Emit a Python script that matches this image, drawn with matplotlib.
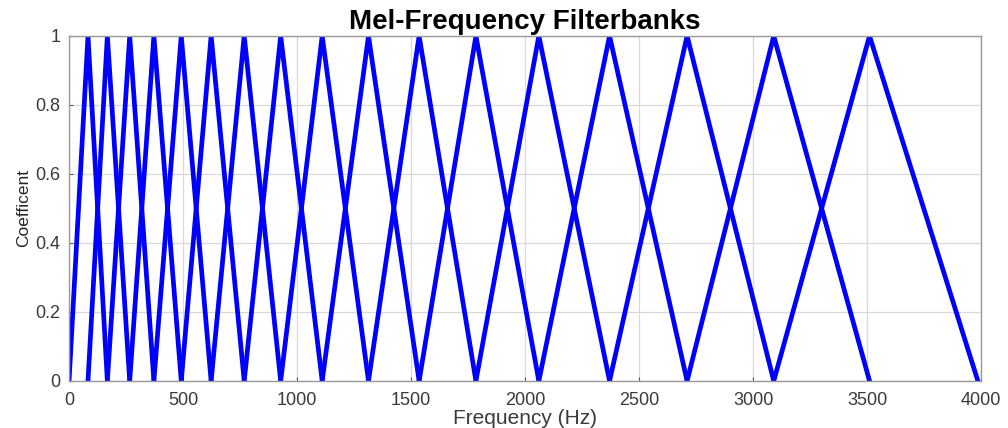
import numpy as np
import matplotlib
matplotlib.use("Agg")
import matplotlib.pyplot as plt

# filter edge / centre frequencies (Hz)
edges = [0, 83, 168, 266, 372, 492, 623, 768, 928, 1110, 1313,
         1535, 1784, 2060, 2370, 2710, 3090, 3510, 3985]
xticks = [0, 500, 1000, 1500, 2000, 2500, 3000, 3500, 4000]
yticks = [0, 0.2, 0.4, 0.6, 0.8, 1]

plt.rcParams['font.family'] = ['Liberation Sans', 'DejaVu Sans']

fig = plt.figure(figsize=(10.08, 4.28), dpi=100)
ax = fig.add_axes([0.0685, 0.110, 0.905, 0.806])

for m in range(1, len(edges) - 1):
    ax.plot([edges[m - 1], edges[m], edges[m + 1]], [0, 1, 0],
            color="#0000ff", linewidth=3.4, solid_joinstyle="miter")

ax.set_xlim(0, 4000)
ax.set_ylim(0, 1)
ax.set_xticks(xticks)
ax.set_yticks(yticks)
ax.set_yticklabels(["0", "0.2", "0.4", "0.6", "0.8", "1"])
ax.grid(True, color="#d9d9d9", linewidth=0.9)
ax.set_axisbelow(True)
for s in ax.spines.values():
    s.set_color("#999999")
    s.set_linewidth(1.0)
ax.tick_params(direction="in", length=3, color="#555555",
               labelsize=13, labelcolor="#3a3a3a", pad=6)
ax.tick_params(axis="x", pad=8)

ax.set_title("Mel-Frequency Filterbanks", fontsize=20, fontweight="bold", pad=5)
ax.set_xlabel("Frequency (Hz)", fontsize=15, color="#3a3a3a", labelpad=0)
ax.set_ylabel("Coefficent", fontsize=12.5, color="#262626", labelpad=3)

fig.savefig("out.png", dpi=100)
